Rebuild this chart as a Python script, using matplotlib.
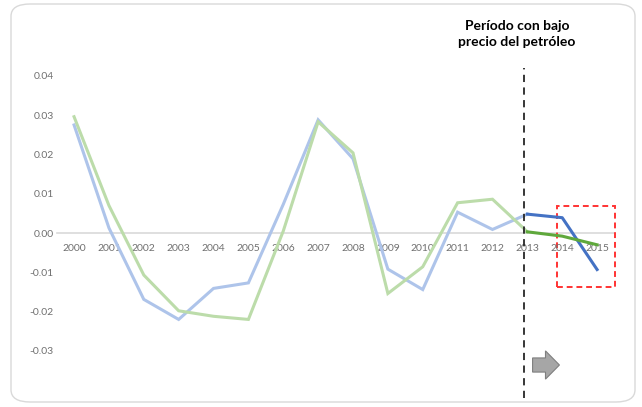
import matplotlib.pyplot as plt
import matplotlib.patches as mpatches
import numpy as np

years = list(range(2000, 2016))
blue = [0.0275, 0.0013, -0.0169, -0.0220, -0.0141, -0.0127, 0.0073, 0.0288,
        0.0189, -0.0092, -0.0144, 0.0053, 0.0009, 0.0048, 0.0039, -0.0093]
green = [0.0296, 0.0070, -0.0107, -0.0198, -0.0212, -0.0220, 0.0005, 0.0283,
         0.0204, -0.0154, -0.0086, 0.0077, 0.0086, 0.0003, -0.0008, -0.0030]
y_ticks = [0.04, 0.03, 0.02, 0.01, 0.0, -0.01, -0.02, -0.03]
split_year = 2013
title = 'Período con bajo\nprecio del petróleo'

plt.rcParams['font.family'] = ['Lato', 'DejaVu Sans']

fig = plt.figure(figsize=(6.42, 4.07), dpi=100)
ax = fig.add_axes([0.0882, 0.0221, 0.869, 0.8108])

# rounded chart border
border = mpatches.FancyBboxPatch((11 / 642, 5 / 407), 624 / 642, 398 / 407,
                                 boxstyle='round,pad=0,rounding_size=0.03',
                                 transform=fig.transFigure, fill=False,
                                 edgecolor='#d9d9d9', linewidth=1.0)
fig.patches.append(border)

k = years.index(split_year)
ax.plot(years[:k + 1], blue[:k + 1], color='#aec4ea', lw=2.2, solid_joinstyle='miter')
ax.plot(years[:k + 1], green[:k + 1], color='#bcdcaa', lw=2.2, solid_joinstyle='miter')
ax.plot(years[k:], blue[k:], color='#4472c4', lw=2.2)
ax.plot(years[k:], green[k:], color='#5fa83c', lw=2.2)

ax.set_xlim(1999.5, 2015.5)
ax.set_ylim(-0.042, 0.042)

for s in ['top', 'right', 'left']:
    ax.spines[s].set_visible(False)
ax.spines['bottom'].set_position(('data', 0))
ax.spines['bottom'].set_color('#d9d9d9')
ax.spines['bottom'].set_linewidth(1.2)
ax.spines['bottom'].set_zorder(0)

ax.set_xticks(years)
ax.set_xticklabels([str(y) for y in years])
ax.set_yticks(y_ticks)
ax.set_yticklabels(['%.2f' % v for v in y_ticks])
ax.tick_params(axis='both', length=0, labelsize=7.5, colors='#707070')
ax.tick_params(axis='x', pad=8)
ax.tick_params(axis='y', pad=2)

# start of the low oil price period
ax.axvline(2012.91, color='#262626', lw=1.3, ls=(0, (4, 3)))
ax.text(2012.7, 0.0472, title, ha='center', va='bottom', fontsize=10,
        fontweight='bold', color='black', linespacing=1.35)

# highlight box and arrow
box = mpatches.Rectangle((2013.86, -0.0138), 1.66, 0.0208, fill=False,
                         edgecolor='#ff3333', lw=1.4, ls=(0, (3, 2)), clip_on=False)
ax.add_patch(box)
arrow = mpatches.FancyArrow(2013.15, -0.0336, 0.77, 0, width=0.0036,
                            head_width=0.0072, head_length=0.40,
                            length_includes_head=True, facecolor='#a6a6a6',
                            edgecolor='#7f7f7f', lw=0.8)
ax.add_patch(arrow)

fig.savefig('out.png', dpi=100)
